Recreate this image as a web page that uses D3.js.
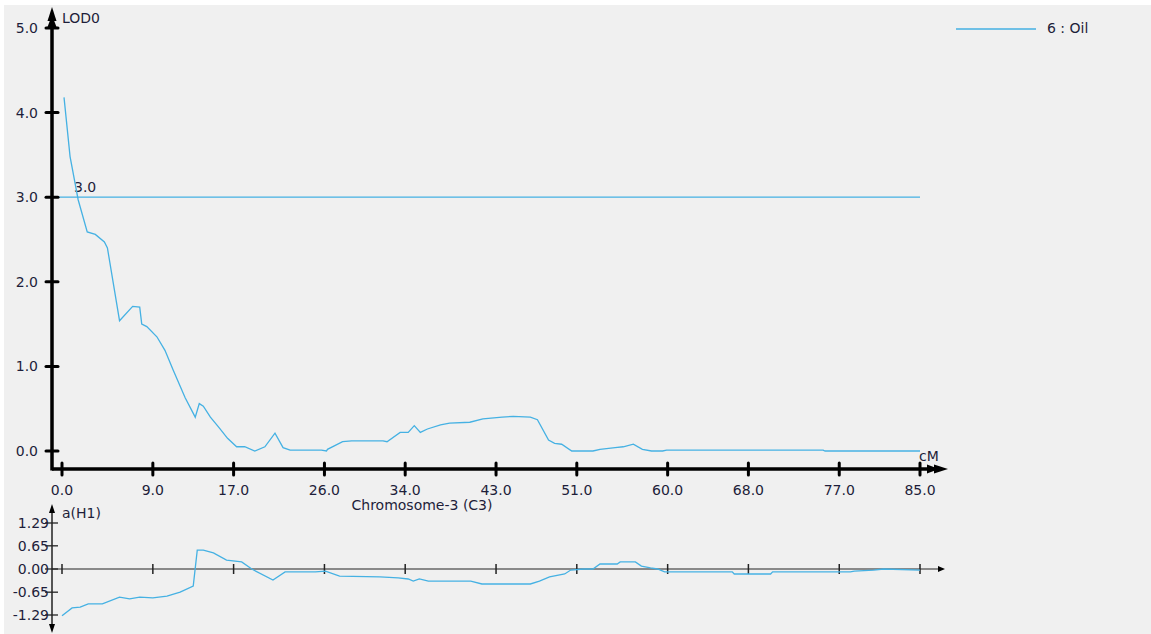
<!DOCTYPE html>
<html>
<head>
<meta charset="utf-8">
<script src="https://cdn.jsdelivr.net/npm/d3@7"></script>
<style>
  html, body { margin: 0; padding: 0; background: #ffffff; }
  svg { display: block; }
  text { font-family: "DejaVu Sans", Verdana, sans-serif; fill: #1e1e3a; }
</style>
</head>
<body>
<svg id="chart" width="1151" height="634"></svg>
<script>
// LOD profile along chromosome 3 (position in cM, LOD score)
const lodPos = [0.2, 0.8, 1.6, 2.5, 3.3, 4.2, 4.5, 5.7, 7.0, 7.7, 7.9, 8.4, 9.4, 10.2, 11.0, 12.2, 13.2, 13.6, 14.0, 14.7, 15.6, 16.4, 17.3, 18.1, 19.1, 20.1, 21.1, 21.9, 22.6, 25.7, 26.2, 26.3, 27.8, 28.7, 31.8, 32.2, 33.5, 34.3, 34.9, 35.5, 36.2, 37.5, 38.4, 40.4, 41.7, 43.6, 44.7, 46.4, 47.1, 48.2, 48.8, 49.5, 50.5, 52.6, 53.3, 54.8, 55.6, 56.6, 57.5, 58.4, 59.5, 59.9, 75.4, 75.6, 85.0];
const lodVal = [4.18, 3.48, 2.97, 2.59, 2.56, 2.47, 2.40, 1.54, 1.71, 1.70, 1.50, 1.47, 1.35, 1.19, 0.96, 0.63, 0.40, 0.56, 0.53, 0.40, 0.27, 0.15, 0.05, 0.05, 0.00, 0.05, 0.21, 0.04, 0.01, 0.01, 0.00, 0.02, 0.11, 0.12, 0.12, 0.11, 0.22, 0.22, 0.30, 0.22, 0.26, 0.31, 0.33, 0.34, 0.38, 0.40, 0.41, 0.40, 0.37, 0.13, 0.09, 0.08, 0.00, 0.00, 0.02, 0.04, 0.05, 0.08, 0.02, 0.00, 0.00, 0.01, 0.01, 0.00, 0.00];

// Additive effect a(H1) along the same chromosome
const addPos = [0.0, 1.0, 1.8, 2.6, 4.0, 5.7, 6.7, 7.7, 9.0, 10.4, 11.7, 13.0, 13.4, 14.0, 15.0, 16.3, 17.8, 18.8, 20.9, 22.1, 25.1, 26.1, 27.5, 31.5, 33.3, 34.3, 34.8, 35.4, 36.3, 40.5, 41.6, 46.4, 47.3, 48.3, 49.8, 50.4, 51.7, 52.6, 53.3, 55.0, 55.3, 56.8, 57.4, 58.3, 59.0, 59.7, 66.4, 66.6, 70.2, 70.4, 78.1, 78.5, 80.4, 81.4, 85.0];
const addVal = [-1.31, -1.09, -1.07, -0.98, -0.98, -0.79, -0.84, -0.79, -0.81, -0.76, -0.65, -0.48, 0.53, 0.53, 0.45, 0.25, 0.20, 0.00, -0.31, -0.08, -0.08, -0.06, -0.20, -0.22, -0.25, -0.28, -0.34, -0.28, -0.34, -0.34, -0.42, -0.42, -0.34, -0.22, -0.14, -0.03, 0.00, 0.00, 0.14, 0.14, 0.20, 0.20, 0.08, 0.03, 0.00, -0.08, -0.08, -0.14, -0.14, -0.08, -0.08, -0.06, -0.03, 0.00, -0.03];

// Axis ticks
const xTicks = [0, 9, 17, 26, 34, 43, 51, 60, 68, 77, 85];
const lodTicks = [0, 1, 2, 3, 4, 5];
const addTicks = [-1.29, -0.65, 0, 0.65, 1.29];
const threshold = 3.0;
const traitName = "6 : Oil";
const chromName = "Chromosome-3 (C3)";

const curveColor = "#45b1e3";
const svg = d3.select("#chart");

// panel background
svg.append("rect").attr("x", 4).attr("y", 5).attr("width", 1147).attr("height", 629).attr("fill", "#f0f0f0");

const x = d3.scaleLinear().domain([0, 85]).range([62, 920]);
const yTop = d3.scaleLinear().domain([0, 5]).range([451, 28]);
const yBot = d3.scaleLinear().domain([-1.29, 1.29]).range([615, 523]);

const axisX0 = 52;          // vertical axes position
const xAxisY = 469;         // main horizontal axis
const fs = "14px";

// ---------- upper panel: LOD ----------
// threshold line
svg.append("line")
  .attr("x1", axisX0).attr("x2", x(85))
  .attr("y1", yTop(threshold)).attr("y2", yTop(threshold))
  .attr("stroke", curveColor).attr("stroke-width", 1.2);
svg.append("text").attr("x", 74).attr("y", yTop(threshold) - 5)
  .style("font-size", fs).text(threshold.toFixed(1));

// LOD curve
const lodData = lodPos.map((p, i) => [p, lodVal[i]]);
svg.append("path").datum(lodData)
  .attr("fill", "none").attr("stroke", curveColor).attr("stroke-width", 1.3)
  .attr("d", d3.line().x(d => x(d[0])).y(d => yTop(d[1])));

// axes lines
svg.append("line").attr("x1", axisX0).attr("x2", 930).attr("y1", xAxisY).attr("y2", xAxisY)
  .attr("stroke", "#000").attr("stroke-width", 3.5);
svg.append("line").attr("x1", axisX0).attr("x2", axisX0).attr("y1", xAxisY + 1.5).attr("y2", 20)
  .attr("stroke", "#000").attr("stroke-width", 3.5);

// arrowheads (double stacked)
function arrowRight(tipX, yy, len, half) {
  return `M${tipX},${yy} L${tipX - len},${yy - half} L${tipX - len},${yy + half} Z`;
}
function arrowUp(xx, tipY, len, half) {
  return `M${xx},${tipY} L${xx - half},${tipY + len} L${xx + half},${tipY + len} Z`;
}
svg.append("path").attr("d", arrowRight(948, xAxisY, 14, 4.5)).attr("fill", "#000");
svg.append("path").attr("d", arrowRight(939, xAxisY, 12, 4.5)).attr("fill", "#000");
svg.append("path").attr("d", arrowUp(axisX0, 7, 14, 4.5)).attr("fill", "#000");
svg.append("path").attr("d", arrowUp(axisX0, 15, 12, 4.5)).attr("fill", "#000");

// x ticks
svg.selectAll(".xt").data(xTicks).enter().append("line")
  .attr("x1", d => x(d)).attr("x2", d => x(d))
  .attr("y1", xAxisY - 6).attr("y2", xAxisY + 6)
  .attr("stroke", "#000").attr("stroke-width", 3).attr("stroke-linecap", "round");
svg.selectAll(".xl").data(xTicks).enter().append("text")
  .attr("x", d => x(d)).attr("y", 495)
  .attr("text-anchor", "middle").style("font-size", fs)
  .text(d => d.toFixed(1));

// y ticks
svg.selectAll(".yt").data(lodTicks).enter().append("line")
  .attr("x1", axisX0 - 6).attr("x2", axisX0 + 6)
  .attr("y1", d => yTop(d)).attr("y2", d => yTop(d))
  .attr("stroke", "#000").attr("stroke-width", 3).attr("stroke-linecap", "round");
svg.selectAll(".yl").data(lodTicks).enter().append("text")
  .attr("x", 38).attr("y", d => yTop(d) + 5)
  .attr("text-anchor", "end").style("font-size", fs)
  .text(d => d.toFixed(1));

// axis titles
svg.append("text").attr("x", 62).attr("y", 23).style("font-size", fs).text("LOD0");
svg.append("text").attr("x", 919).attr("y", 461).style("font-size", fs).text("cM");
svg.append("text").attr("x", 422).attr("y", 510).attr("text-anchor", "middle")
  .style("font-size", fs).text(chromName);

// legend
svg.append("line").attr("x1", 956).attr("x2", 1036).attr("y1", 29).attr("y2", 29)
  .attr("stroke", curveColor).attr("stroke-width", 1.3);
svg.append("text").attr("x", 1047).attr("y", 33).style("font-size", fs).text(traitName);

// ---------- lower panel: additive effect ----------
const zeroY = yBot(0);
svg.append("line").attr("x1", axisX0).attr("x2", 940).attr("y1", zeroY).attr("y2", zeroY)
  .attr("stroke", "#222").attr("stroke-width", 1.2);
svg.append("path").attr("d", arrowRight(945, zeroY, 7, 3)).attr("fill", "#000");
svg.append("line").attr("x1", axisX0).attr("x2", axisX0).attr("y1", 508).attr("y2", 629)
  .attr("stroke", "#222").attr("stroke-width", 1.5);
svg.append("path").attr("d", arrowUp(axisX0, 504, 9, 3)).attr("fill", "#000");
svg.append("path").attr("d", `M${axisX0},633 L${axisX0 - 3},624 L${axisX0 + 3},624 Z`).attr("fill", "#000");

svg.selectAll(".bxt").data(xTicks).enter().append("line")
  .attr("x1", d => x(d)).attr("x2", d => x(d))
  .attr("y1", zeroY - 5).attr("y2", zeroY + 5)
  .attr("stroke", "#222").attr("stroke-width", 1.5);
svg.selectAll(".byt").data(addTicks).enter().append("line")
  .attr("x1", axisX0 - 7).attr("x2", axisX0 + 6)
  .attr("y1", d => yBot(d)).attr("y2", d => yBot(d))
  .attr("stroke", "#222").attr("stroke-width", 1.3);
svg.selectAll(".byl").data(addTicks).enter().append("text")
  .attr("x", 49).attr("y", d => yBot(d) + 5)
  .attr("text-anchor", "end").style("font-size", fs)
  .text(d => d.toFixed(2));

svg.append("text").attr("x", 62).attr("y", 518).style("font-size", fs).text("a(H1)");

const addData = addPos.map((p, i) => [p, addVal[i]]);
svg.append("path").datum(addData)
  .attr("fill", "none").attr("stroke", curveColor).attr("stroke-width", 1.3)
  .attr("d", d3.line().x(d => x(d[0])).y(d => yBot(d[1])));
</script>
</body>
</html>
